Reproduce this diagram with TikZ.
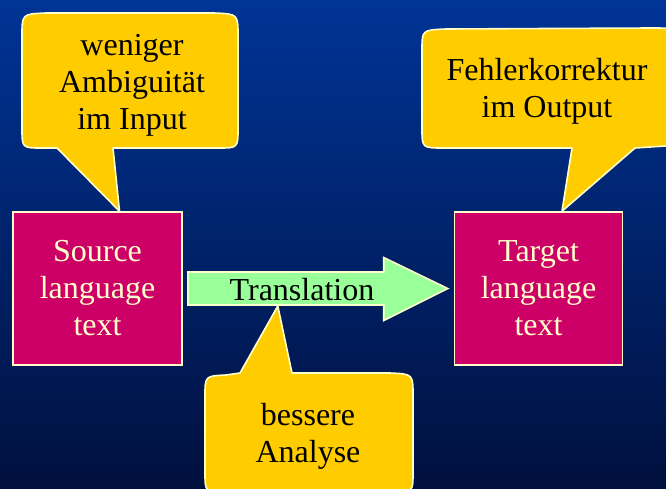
\documentclass[tikz,border=0pt]{standalone}
\usepackage{fontspec}
\setmainfont{Liberation Serif}
\usetikzlibrary{calc}
\definecolor{bgtop}{RGB}{0,52,150}
\definecolor{bgbot}{RGB}{0,16,62}
\definecolor{boxred}{RGB}{204,0,102}
\definecolor{cream}{RGB}{255,255,204}
\definecolor{arrgreen}{RGB}{153,255,153}
\definecolor{bubblefill}{RGB}{255,204,0}
\newcommand\dgfont{\fontsize{32}{37}\selectfont}
\begin{document}
\begin{tikzpicture}[x=1pt,y=-1pt,
  textbox/.style={draw=cream, line width=1.6pt, fill=boxred, text=cream, align=center,
    font=\dgfont, minimum width=169pt, minimum height=153pt, inner sep=0pt},
  bubblestyle/.style={draw=cream, line width=1.6pt, fill=bubblefill, line join=round},
  bubbletext/.style={text=black, align=center, font=\dgfont, inner sep=0pt},
  arrowstyle/.style={draw=cream, line width=1.6pt, fill=arrgreen, line join=miter}]
\useasboundingbox (0,0) rectangle (666,488);
\clip (0,0) rectangle (666,488);
\shade[top color=bgtop, bottom color=bgbot] (0,0) rectangle (666,488);

% boxes
\node[textbox] (src) at (97.5,288.5) {Source\\language\\text};
\node[textbox, minimum width=168pt] (tgt) at (538.5,288.5) {Target\\language\\text};

% arrow
\coordinate (as) at ($(src.east)+(5,0)$);
\coordinate (ae) at ($(tgt.west)+(-6,0)$);
\draw[arrowstyle] ($(as)+(0,-16.5)$) -- ($(ae)+(-64,-16.5)$) -- ($(ae)+(-64,-31)$) -- (ae)
  -- ($(ae)+(-64,32)$) -- ($(ae)+(-64,16.5)$) -- ($(as)+(0,16.5)$) -- cycle;
\node[bubbletext] (tr) at (302,290) {Translation};

% left bubble
\coordinate (tipA) at ($(src.north)+(22,0)$);
\draw[bubblestyle] (22,36) .. controls (22,14) .. (46,13) -- (214,13) .. controls (238,14) .. (238,36)
  -- (238,128) .. controls (238,148) .. (218,148) -- (113,148) -- (tipA) -- (57,148) -- (42,148)
  .. controls (22,148) .. (22,128) -- cycle;
\node[bubbletext] (bA) at (132,85) {weniger\\Ambiguität\\im Input};

% right bubble
\coordinate (tipB) at ($(tgt.north)+(23.5,0)$);
\draw[bubblestyle] (422,50) .. controls (422,30) .. (446,29) -- (650,28) .. controls (680,28) .. (680,45)
  -- (680,130) .. controls (680,146) .. (665,146) -- (635,148) -- (tipB) -- (572,148) -- (444,148)
  .. controls (422,148) .. (422,128) -- cycle;
\node[bubbletext] (bB) at (547,91) {Fehlerkorrektur\\im Output};

% bottom bubble
\coordinate (tipC) at ($(as)+(90,17.5)$);
\draw[bubblestyle] (205,396) .. controls (205,376) .. (226,375) -- (240,373) -- (tipC) -- (292,373)
  -- (390,373) .. controls (413,374) .. (413,396) -- (413,472) .. controls (413,492) .. (393,492)
  -- (225,492) .. controls (205,492) .. (205,472) -- cycle;
\node[bubbletext] (bC) at (308,436) {bessere\\Analyse};
\end{tikzpicture}
\end{document}
